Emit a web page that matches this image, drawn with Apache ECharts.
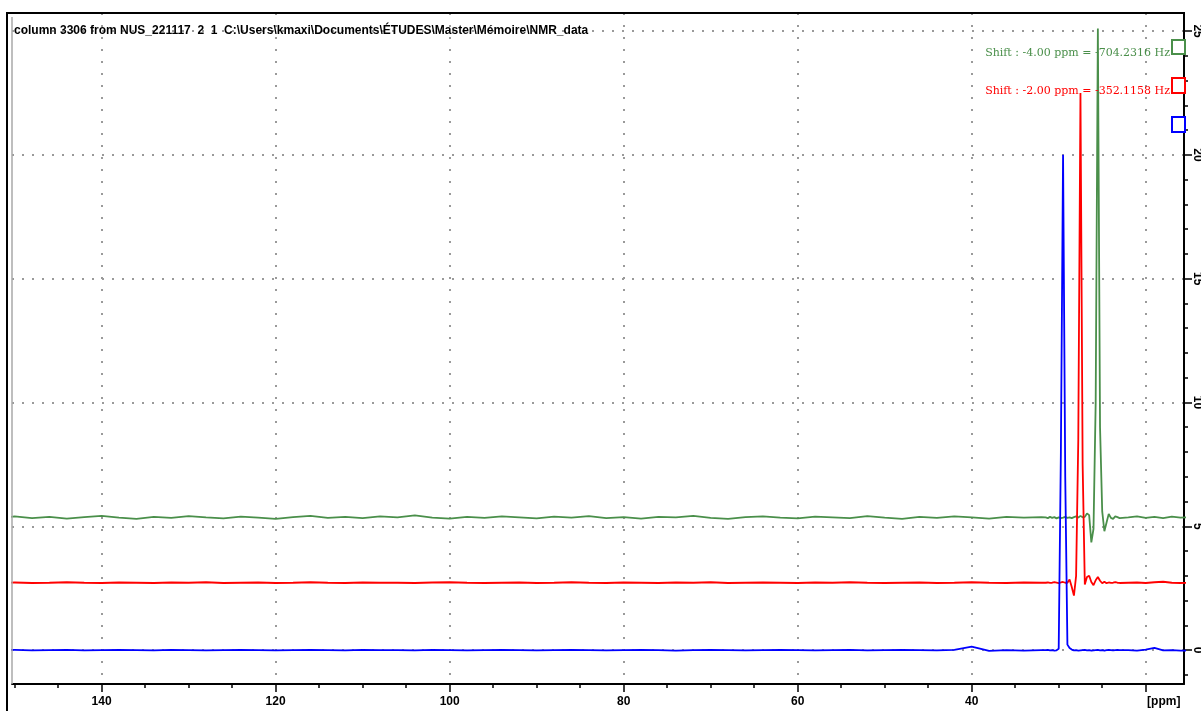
<!DOCTYPE html>
<html>
<head>
<meta charset="utf-8">
<title>column 3306 from NUS_221117</title>
<script src="https://cdn.jsdelivr.net/npm/echarts@6/dist/echarts.min.js"></script>
<style>
  html, body { margin: 0; padding: 0; background: #ffffff; }
  #chart { width: 1201px; height: 711px; }
</style>
</head>
<body>
<div id="chart"></div>
<script>
// Chemical shift grid (ppm), shared by the three traces
const ppm = [
  151, 150, 148, 146, 144, 142, 140, 138, 136, 134, 132, 130, 128, 126, 124, 122, 120,
  118, 116, 114, 112, 110, 108, 106, 104, 102, 100, 98, 96, 94, 92, 90, 88, 86, 84, 82,
  80, 78, 76, 74, 72, 70, 68, 66, 64, 62, 60, 58, 56, 54, 52, 50, 48, 46, 44, 42, 40,
  38, 36, 34, 32,
  31.5, 31.25, 31, 30.75, 30.5, 30.25, 30, 29.75, 29.5, 29.25, 29, 28.75, 28.5, 28.25,
  28, 27.75, 27.5, 27.25, 27, 26.75, 26.5, 26.25, 26, 25.75, 25.5, 25.25, 25, 24.75,
  24.5, 24.25, 24, 23.75, 23.5, 23.25, 23,
  22, 21, 20, 19, 18, 17, 16, 15
];

// Unshifted column (blue)
const blueTrace = [
  0.00, 0.01, -0.01, 0.00, 0.01, -0.01, 0.00, 0.01, 0.00, -0.01, 0.01, 0.00, -0.01, 0.00, 0.01, 0.00, -0.01,
  0.00, 0.01, 0.00, -0.01, 0.01, 0.00, 0.00, -0.01, 0.01, 0.00, -0.01, 0.00, 0.01, 0.00, -0.01, 0.00, 0.01, 0.00, -0.01,
  0.00, 0.01, 0.00, -0.02, 0.00, 0.01, 0.00, -0.01, 0.00, 0.01, 0.00, -0.01, 0.00, 0.01, -0.01, 0.00, 0.01, 0.00, -0.01, 0.01, 0.14,
  -0.03, 0.00, -0.02, 0.00,
  0.00, 0.01, -0.01, 0.00, -0.02, -0.01, 0.05, 8.0, 20.0, 7.0, 0.22, 0.08, 0.02, -0.01,
  0.00, -0.02, -0.01, 0.00, 0.01, -0.01, 0.00, -0.02, -0.01, 0.00, 0.01, -0.01, 0.00, -0.02,
  0.00, 0.01, 0.00, -0.01, 0.00, 0.01, 0.00,
  0.00, -0.02, 0.02, 0.09, -0.01, 0.00, -0.02, -0.02
];

// Shift -2.00 ppm (red)
const redTrace = [
  2.72, 2.73, 2.71, 2.72, 2.74, 2.72, 2.71, 2.73, 2.72, 2.71, 2.73, 2.72, 2.74, 2.71, 2.72, 2.73, 2.71,
  2.72, 2.74, 2.72, 2.71, 2.73, 2.72, 2.72, 2.71, 2.73, 2.74, 2.72, 2.71, 2.72, 2.73, 2.71, 2.72, 2.74, 2.72, 2.71,
  2.73, 2.72, 2.71, 2.73, 2.72, 2.74, 2.71, 2.72, 2.73, 2.72, 2.71, 2.73, 2.72, 2.74, 2.72, 2.71, 2.72, 2.73, 2.71, 2.72, 2.74,
  2.72, 2.71, 2.73, 2.72,
  2.72, 2.73, 2.71, 2.72, 2.74, 2.72, 2.70, 2.73, 2.75, 2.72, 2.72, 2.85, 2.55, 2.20,
  3.00, 8.5, 22.5, 7.5, 2.65, 2.95, 3.00, 2.75, 2.62, 2.82, 2.95, 2.80, 2.70, 2.76,
  2.70, 2.73, 2.71, 2.72, 2.74, 2.72, 2.71,
  2.72, 2.73, 2.71, 2.74, 2.76, 2.72, 2.71, 2.72
];

// Shift -4.00 ppm (green)
const greenTrace = [
  5.36, 5.40, 5.33, 5.38, 5.31, 5.37, 5.42, 5.35, 5.30, 5.38, 5.34, 5.41, 5.36, 5.32, 5.39, 5.35, 5.30,
  5.37, 5.42, 5.34, 5.38, 5.33, 5.40, 5.36, 5.44, 5.35, 5.31, 5.38, 5.34, 5.40, 5.36, 5.32, 5.39, 5.35, 5.41, 5.33,
  5.37, 5.31, 5.38, 5.36, 5.42, 5.34, 5.30, 5.37, 5.40, 5.35, 5.32, 5.39, 5.36, 5.33, 5.41, 5.35, 5.30, 5.38, 5.34, 5.40, 5.36,
  5.31, 5.38, 5.35, 5.37,
  5.36, 5.33, 5.38, 5.34, 5.37, 5.32, 5.36, 5.33, 5.35, 5.38, 5.34, 5.36, 5.33, 5.37,
  5.40, 5.35, 5.42, 5.36, 5.38, 5.52, 5.45, 4.35, 4.90, 10.0, 25.1, 9.0, 5.60, 4.80,
  5.15, 5.50, 5.34, 5.30, 5.40, 5.37, 5.33,
  5.36, 5.40, 5.34, 5.38, 5.33, 5.39, 5.35, 5.37
];

// Axis ticks
const xMajorTicks = [140, 120, 100, 80, 60, 40, 20];
const xMinorTicks = [150, 145, 135, 130, 125, 115, 110, 105, 95, 90, 85, 75, 70, 65, 55, 50, 45, 35, 30, 25];
const yMajorTicks = [0, 5, 10, 15, 20, 25];
const yMinorTicks = [-1, 1, 2, 3, 4, 6, 7, 8, 9, 11, 12, 13, 14, 16, 17, 18, 19, 21, 22, 23, 24];

const headerText = 'column 3306 from NUS_221117  2  1  C:\\Users\\kmaxi\\Documents\\ÉTUDES\\Master\\Mémoire\\NMR_data';
const shiftTexts = ['Shift : -4.00 ppm = -704.2316 Hz', 'Shift : -2.00 ppm = -352.1158 Hz'];

const BLUE = '#0000ff';
const RED = '#ff0000';
const GREEN = '#4a8f4a';
const GRID_DOT = '#9a9a9a';

const pairs = (ys) => ppm.map((p, i) => [p, ys[i]]);

const chart = echarts.init(document.getElementById('chart'), null, { renderer: 'canvas' });

const xCommon = { type: 'value', min: 15.6, max: 150.3, inverse: true, position: 'bottom', gridIndex: 0 };
const yCommon = { type: 'value', min: -1.37, max: 25.73, position: 'right', gridIndex: 0 };

chart.setOption({
  animation: false,
  backgroundColor: '#ffffff',
  textStyle: { fontFamily: 'Liberation Sans, Arial, sans-serif' },
  grid: { left: 12, right: 17, top: 13, bottom: 27, containLabel: false, outerBoundsMode: 'none' },
  xAxis: [
    Object.assign({}, xCommon, {
      axisLine: { show: true, onZero: false, lineStyle: { color: '#000', width: 2 } },
      axisTick: { show: true, inside: false, length: 8, customValues: xMajorTicks, lineStyle: { color: '#000', width: 1.5 } },
      axisLabel: {
        show: true, margin: 12, customValues: xMajorTicks,
        color: '#000', fontSize: 12, fontWeight: 'bold', fontFamily: 'Liberation Sans',
        formatter: (v) => (v === 20 ? '{u|[ppm]}' : String(v)),
        rich: { u: { fontSize: 12, fontWeight: 'bold', fontFamily: 'Liberation Sans', color: '#000', padding: [0, 0, 0, 36] } }
      },
      splitLine: { show: true, lineStyle: { color: GRID_DOT, width: 2, type: [2, 10] } }
    }),
    Object.assign({}, xCommon, {
      axisLine: { show: false, onZero: false },
      axisTick: { show: true, inside: false, length: 4, customValues: xMinorTicks, lineStyle: { color: '#000', width: 1.5 } },
      axisLabel: { show: false },
      splitLine: { show: false }
    })
  ],
  yAxis: [
    Object.assign({}, yCommon, {
      axisLine: { show: true, onZero: false, lineStyle: { color: '#000', width: 2 } },
      axisTick: { show: true, inside: false, length: 8, customValues: yMajorTicks, lineStyle: { color: '#000', width: 1.5 } },
      axisLabel: {
        show: true, margin: 7, rotate: -90, customValues: yMajorTicks,
        color: '#000', fontSize: 12, fontWeight: 'bold', fontFamily: 'Liberation Sans'
      },
      splitLine: { show: true, lineStyle: { color: GRID_DOT, width: 2, type: [2, 8] } }
    }),
    Object.assign({}, yCommon, {
      axisLine: { show: false, onZero: false },
      axisTick: { show: true, inside: false, length: 4, customValues: yMinorTicks, lineStyle: { color: '#000', width: 1.5 } },
      axisLabel: { show: false },
      splitLine: { show: false }
    })
  ],
  series: [
    { name: 'shift -4.00 ppm', type: 'line', data: pairs(greenTrace), xAxisIndex: 0, yAxisIndex: 0,
      showSymbol: false, smooth: false, lineStyle: { color: GREEN, width: 1.8 }, z: 2 },
    { name: 'shift -2.00 ppm', type: 'line', data: pairs(redTrace), xAxisIndex: 0, yAxisIndex: 0,
      showSymbol: false, smooth: false, lineStyle: { color: RED, width: 1.8 }, z: 3 },
    { name: 'column 3306', type: 'line', data: pairs(blueTrace), xAxisIndex: 0, yAxisIndex: 0,
      showSymbol: false, smooth: false, lineStyle: { color: BLUE, width: 1.8 }, z: 4 }
  ],
  graphic: [
    // outer frame
    { type: 'line', shape: { x1: 7, y1: 13, x2: 7, y2: 711 }, style: { stroke: '#000', lineWidth: 2 }, z: 10 },
    { type: 'line', shape: { x1: 6, y1: 13, x2: 1185, y2: 13 }, style: { stroke: '#000', lineWidth: 2 }, z: 10 },
    { type: 'line', shape: { x1: 12, y1: 17, x2: 12, y2: 684 }, style: { stroke: '#a8a8a8', lineWidth: 1.5 }, z: 10 },
    // header
    { type: 'text', x: 14, y: 31, style: { text: headerText, fill: '#000', font: 'bold 12px "Liberation Sans", Arial, sans-serif', textVerticalAlign: 'middle', textAlign: 'left' }, z: 10 },
    // shift annotations
    { type: 'text', x: 1170, y: 53, style: { text: shiftTexts[0], fill: GREEN, font: '11px "DejaVu Serif", serif', textVerticalAlign: 'middle', textAlign: 'right' }, z: 10 },
    { type: 'text', x: 1170, y: 91, style: { text: shiftTexts[1], fill: RED, font: '11px "DejaVu Serif", serif', textVerticalAlign: 'middle', textAlign: 'right' }, z: 10 },
    // offset handles
    { type: 'rect', shape: { x: 1172, y: 40, width: 13, height: 14 }, style: { fill: '#fff', stroke: GREEN, lineWidth: 2 }, z: 9 },
    { type: 'rect', shape: { x: 1172, y: 78, width: 13, height: 15 }, style: { fill: '#fff', stroke: RED, lineWidth: 2 }, z: 9 },
    { type: 'rect', shape: { x: 1172, y: 117, width: 13, height: 15 }, style: { fill: '#fff', stroke: BLUE, lineWidth: 2 }, z: 9 }
  ]
});
</script>
</body>
</html>
